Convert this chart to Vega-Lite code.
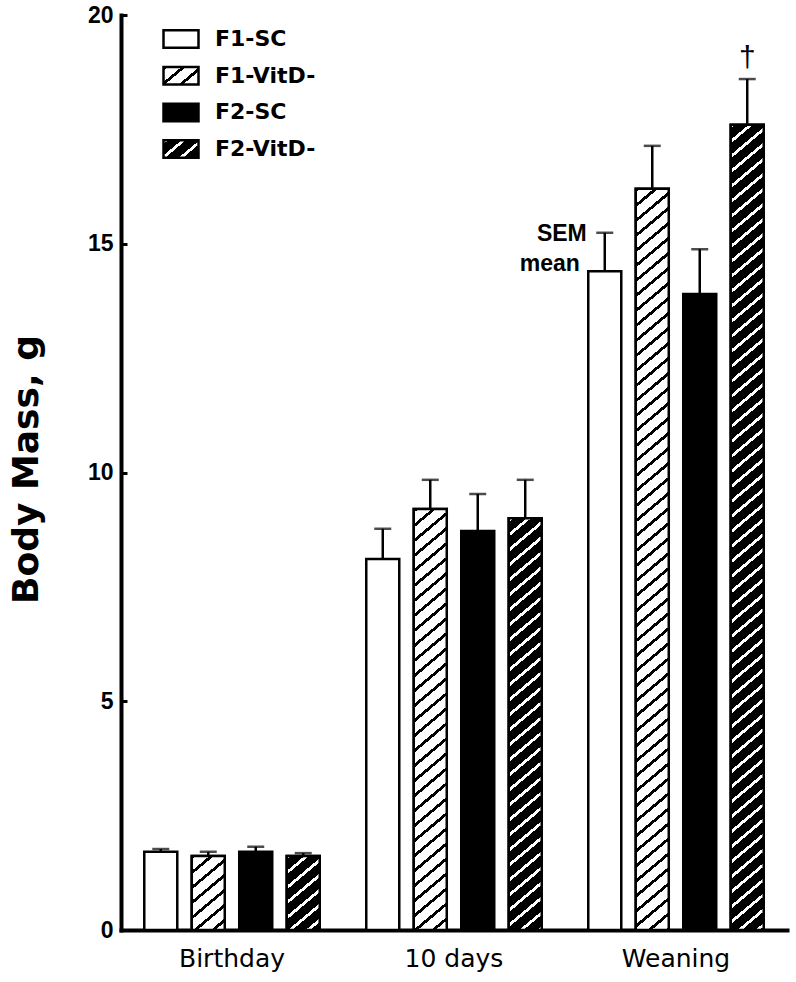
{
  "$schema": "https://vega.github.io/schema/vega-lite/v6.json",
  "width": 666,
  "height": 915,
  "autosize": {"type": "none"},
  "padding": {"left": 121, "top": 15, "right": 9, "bottom": 52},
  "background": "white",
  "config": {
    "font": "Liberation Sans",
    "view": {"stroke": null},
    "axis": {"domainColor": "black", "domainWidth": 4, "domainCap": "square", "tickColor": "black", "labelColor": "black", "titleColor": "black", "grid": false}
  },
  "params": [
    {"name": "hatchA", "value": [
      {"offset":0,"color":"#000"},{"offset":0.0043,"color":"#000"},{"offset":0.0043,"color":"#fff"},{"offset":0.0172,"color":"#fff"},
      {"offset":0.0172,"color":"#000"},{"offset":0.0215,"color":"#000"},{"offset":0.0215,"color":"#fff"},{"offset":0.0345,"color":"#fff"},
      {"offset":0.0345,"color":"#000"},{"offset":0.0388,"color":"#000"},{"offset":0.0388,"color":"#fff"},{"offset":0.0517,"color":"#fff"},
      {"offset":0.0517,"color":"#000"},{"offset":0.0560,"color":"#000"},{"offset":0.0560,"color":"#fff"},{"offset":0.0690,"color":"#fff"},
      {"offset":0.0690,"color":"#000"},{"offset":0.0733,"color":"#000"},{"offset":0.0733,"color":"#fff"},{"offset":0.0862,"color":"#fff"},
      {"offset":0.0862,"color":"#000"},{"offset":0.0905,"color":"#000"},{"offset":0.0905,"color":"#fff"},{"offset":0.1034,"color":"#fff"},
      {"offset":0.1034,"color":"#000"},{"offset":0.1077,"color":"#000"},{"offset":0.1077,"color":"#fff"},{"offset":0.1207,"color":"#fff"},
      {"offset":0.1207,"color":"#000"},{"offset":0.1250,"color":"#000"},{"offset":0.1250,"color":"#fff"},{"offset":0.1379,"color":"#fff"},
      {"offset":0.1379,"color":"#000"},{"offset":0.1422,"color":"#000"},{"offset":0.1422,"color":"#fff"},{"offset":0.1552,"color":"#fff"},
      {"offset":0.1552,"color":"#000"},{"offset":0.1595,"color":"#000"},{"offset":0.1595,"color":"#fff"},{"offset":0.1724,"color":"#fff"},
      {"offset":0.1724,"color":"#000"},{"offset":0.1767,"color":"#000"},{"offset":0.1767,"color":"#fff"},{"offset":0.1897,"color":"#fff"},
      {"offset":0.1897,"color":"#000"},{"offset":0.1940,"color":"#000"},{"offset":0.1940,"color":"#fff"},{"offset":0.2069,"color":"#fff"},
      {"offset":0.2069,"color":"#000"},{"offset":0.2112,"color":"#000"},{"offset":0.2112,"color":"#fff"},{"offset":0.2241,"color":"#fff"},
      {"offset":0.2241,"color":"#000"},{"offset":0.2284,"color":"#000"},{"offset":0.2284,"color":"#fff"},{"offset":0.2414,"color":"#fff"},
      {"offset":0.2414,"color":"#000"},{"offset":0.2457,"color":"#000"},{"offset":0.2457,"color":"#fff"},{"offset":0.2586,"color":"#fff"},
      {"offset":0.2586,"color":"#000"},{"offset":0.2629,"color":"#000"},{"offset":0.2629,"color":"#fff"},{"offset":0.2759,"color":"#fff"},
      {"offset":0.2759,"color":"#000"},{"offset":0.2802,"color":"#000"},{"offset":0.2802,"color":"#fff"},{"offset":0.2931,"color":"#fff"},
      {"offset":0.2931,"color":"#000"},{"offset":0.2974,"color":"#000"},{"offset":0.2974,"color":"#fff"},{"offset":0.3103,"color":"#fff"},
      {"offset":0.3103,"color":"#000"},{"offset":0.3146,"color":"#000"},{"offset":0.3146,"color":"#fff"},{"offset":0.3276,"color":"#fff"},
      {"offset":0.3276,"color":"#000"},{"offset":0.3319,"color":"#000"},{"offset":0.3319,"color":"#fff"},{"offset":0.3448,"color":"#fff"},
      {"offset":0.3448,"color":"#000"},{"offset":0.3491,"color":"#000"},{"offset":0.3491,"color":"#fff"},{"offset":0.3621,"color":"#fff"},
      {"offset":0.3621,"color":"#000"},{"offset":0.3664,"color":"#000"},{"offset":0.3664,"color":"#fff"},{"offset":0.3793,"color":"#fff"},
      {"offset":0.3793,"color":"#000"},{"offset":0.3836,"color":"#000"},{"offset":0.3836,"color":"#fff"},{"offset":0.3966,"color":"#fff"},
      {"offset":0.3966,"color":"#000"},{"offset":0.4009,"color":"#000"},{"offset":0.4009,"color":"#fff"},{"offset":0.4138,"color":"#fff"},
      {"offset":0.4138,"color":"#000"},{"offset":0.4181,"color":"#000"},{"offset":0.4181,"color":"#fff"},{"offset":0.4310,"color":"#fff"},
      {"offset":0.4310,"color":"#000"},{"offset":0.4353,"color":"#000"},{"offset":0.4353,"color":"#fff"},{"offset":0.4483,"color":"#fff"},
      {"offset":0.4483,"color":"#000"},{"offset":0.4526,"color":"#000"},{"offset":0.4526,"color":"#fff"},{"offset":0.4655,"color":"#fff"},
      {"offset":0.4655,"color":"#000"},{"offset":0.4698,"color":"#000"},{"offset":0.4698,"color":"#fff"},{"offset":0.4828,"color":"#fff"},
      {"offset":0.4828,"color":"#000"},{"offset":0.4871,"color":"#000"},{"offset":0.4871,"color":"#fff"},{"offset":0.5000,"color":"#fff"},
      {"offset":0.5000,"color":"#000"},{"offset":0.5043,"color":"#000"},{"offset":0.5043,"color":"#fff"},{"offset":0.5172,"color":"#fff"},
      {"offset":0.5172,"color":"#000"},{"offset":0.5215,"color":"#000"},{"offset":0.5215,"color":"#fff"},{"offset":0.5345,"color":"#fff"},
      {"offset":0.5345,"color":"#000"},{"offset":0.5388,"color":"#000"},{"offset":0.5388,"color":"#fff"},{"offset":0.5517,"color":"#fff"},
      {"offset":0.5517,"color":"#000"},{"offset":0.5560,"color":"#000"},{"offset":0.5560,"color":"#fff"},{"offset":0.5690,"color":"#fff"},
      {"offset":0.5690,"color":"#000"},{"offset":0.5733,"color":"#000"},{"offset":0.5733,"color":"#fff"},{"offset":0.5862,"color":"#fff"},
      {"offset":0.5862,"color":"#000"},{"offset":0.5905,"color":"#000"},{"offset":0.5905,"color":"#fff"},{"offset":0.6034,"color":"#fff"},
      {"offset":0.6034,"color":"#000"},{"offset":0.6077,"color":"#000"},{"offset":0.6077,"color":"#fff"},{"offset":0.6207,"color":"#fff"},
      {"offset":0.6207,"color":"#000"},{"offset":0.6250,"color":"#000"},{"offset":0.6250,"color":"#fff"},{"offset":0.6379,"color":"#fff"},
      {"offset":0.6379,"color":"#000"},{"offset":0.6422,"color":"#000"},{"offset":0.6422,"color":"#fff"},{"offset":0.6552,"color":"#fff"},
      {"offset":0.6552,"color":"#000"},{"offset":0.6595,"color":"#000"},{"offset":0.6595,"color":"#fff"},{"offset":0.6724,"color":"#fff"},
      {"offset":0.6724,"color":"#000"},{"offset":0.6767,"color":"#000"},{"offset":0.6767,"color":"#fff"},{"offset":0.6897,"color":"#fff"},
      {"offset":0.6897,"color":"#000"},{"offset":0.6940,"color":"#000"},{"offset":0.6940,"color":"#fff"},{"offset":0.7069,"color":"#fff"},
      {"offset":0.7069,"color":"#000"},{"offset":0.7112,"color":"#000"},{"offset":0.7112,"color":"#fff"},{"offset":0.7241,"color":"#fff"},
      {"offset":0.7241,"color":"#000"},{"offset":0.7284,"color":"#000"},{"offset":0.7284,"color":"#fff"},{"offset":0.7414,"color":"#fff"},
      {"offset":0.7414,"color":"#000"},{"offset":0.7457,"color":"#000"},{"offset":0.7457,"color":"#fff"},{"offset":0.7586,"color":"#fff"},
      {"offset":0.7586,"color":"#000"},{"offset":0.7629,"color":"#000"},{"offset":0.7629,"color":"#fff"},{"offset":0.7759,"color":"#fff"},
      {"offset":0.7759,"color":"#000"},{"offset":0.7802,"color":"#000"},{"offset":0.7802,"color":"#fff"},{"offset":0.7931,"color":"#fff"},
      {"offset":0.7931,"color":"#000"},{"offset":0.7974,"color":"#000"},{"offset":0.7974,"color":"#fff"},{"offset":0.8103,"color":"#fff"},
      {"offset":0.8103,"color":"#000"},{"offset":0.8146,"color":"#000"},{"offset":0.8146,"color":"#fff"},{"offset":0.8276,"color":"#fff"},
      {"offset":0.8276,"color":"#000"},{"offset":0.8319,"color":"#000"},{"offset":0.8319,"color":"#fff"},{"offset":0.8448,"color":"#fff"},
      {"offset":0.8448,"color":"#000"},{"offset":0.8491,"color":"#000"},{"offset":0.8491,"color":"#fff"},{"offset":0.8621,"color":"#fff"},
      {"offset":0.8621,"color":"#000"},{"offset":0.8664,"color":"#000"},{"offset":0.8664,"color":"#fff"},{"offset":0.8793,"color":"#fff"},
      {"offset":0.8793,"color":"#000"},{"offset":0.8836,"color":"#000"},{"offset":0.8836,"color":"#fff"},{"offset":0.8966,"color":"#fff"},
      {"offset":0.8966,"color":"#000"},{"offset":0.9009,"color":"#000"},{"offset":0.9009,"color":"#fff"},{"offset":0.9138,"color":"#fff"},
      {"offset":0.9138,"color":"#000"},{"offset":0.9181,"color":"#000"},{"offset":0.9181,"color":"#fff"},{"offset":0.9310,"color":"#fff"},
      {"offset":0.9310,"color":"#000"},{"offset":0.9353,"color":"#000"},{"offset":0.9353,"color":"#fff"},{"offset":0.9483,"color":"#fff"},
      {"offset":0.9483,"color":"#000"},{"offset":0.9526,"color":"#000"},{"offset":0.9526,"color":"#fff"},{"offset":0.9655,"color":"#fff"},
      {"offset":0.9655,"color":"#000"},{"offset":0.9698,"color":"#000"},{"offset":0.9698,"color":"#fff"},{"offset":0.9828,"color":"#fff"},
      {"offset":0.9828,"color":"#000"},{"offset":0.9871,"color":"#000"},{"offset":0.9871,"color":"#fff"},{"offset":1,"color":"#fff"}
    ]},
    {"name": "hatchB", "value": [
      {"offset":0,"color":"#fff"},{"offset":0.0043,"color":"#fff"},{"offset":0.0043,"color":"#000"},{"offset":0.0172,"color":"#000"},
      {"offset":0.0172,"color":"#fff"},{"offset":0.0215,"color":"#fff"},{"offset":0.0215,"color":"#000"},{"offset":0.0345,"color":"#000"},
      {"offset":0.0345,"color":"#fff"},{"offset":0.0388,"color":"#fff"},{"offset":0.0388,"color":"#000"},{"offset":0.0517,"color":"#000"},
      {"offset":0.0517,"color":"#fff"},{"offset":0.0560,"color":"#fff"},{"offset":0.0560,"color":"#000"},{"offset":0.0690,"color":"#000"},
      {"offset":0.0690,"color":"#fff"},{"offset":0.0733,"color":"#fff"},{"offset":0.0733,"color":"#000"},{"offset":0.0862,"color":"#000"},
      {"offset":0.0862,"color":"#fff"},{"offset":0.0905,"color":"#fff"},{"offset":0.0905,"color":"#000"},{"offset":0.1034,"color":"#000"},
      {"offset":0.1034,"color":"#fff"},{"offset":0.1077,"color":"#fff"},{"offset":0.1077,"color":"#000"},{"offset":0.1207,"color":"#000"},
      {"offset":0.1207,"color":"#fff"},{"offset":0.1250,"color":"#fff"},{"offset":0.1250,"color":"#000"},{"offset":0.1379,"color":"#000"},
      {"offset":0.1379,"color":"#fff"},{"offset":0.1422,"color":"#fff"},{"offset":0.1422,"color":"#000"},{"offset":0.1552,"color":"#000"},
      {"offset":0.1552,"color":"#fff"},{"offset":0.1595,"color":"#fff"},{"offset":0.1595,"color":"#000"},{"offset":0.1724,"color":"#000"},
      {"offset":0.1724,"color":"#fff"},{"offset":0.1767,"color":"#fff"},{"offset":0.1767,"color":"#000"},{"offset":0.1897,"color":"#000"},
      {"offset":0.1897,"color":"#fff"},{"offset":0.1940,"color":"#fff"},{"offset":0.1940,"color":"#000"},{"offset":0.2069,"color":"#000"},
      {"offset":0.2069,"color":"#fff"},{"offset":0.2112,"color":"#fff"},{"offset":0.2112,"color":"#000"},{"offset":0.2241,"color":"#000"},
      {"offset":0.2241,"color":"#fff"},{"offset":0.2284,"color":"#fff"},{"offset":0.2284,"color":"#000"},{"offset":0.2414,"color":"#000"},
      {"offset":0.2414,"color":"#fff"},{"offset":0.2457,"color":"#fff"},{"offset":0.2457,"color":"#000"},{"offset":0.2586,"color":"#000"},
      {"offset":0.2586,"color":"#fff"},{"offset":0.2629,"color":"#fff"},{"offset":0.2629,"color":"#000"},{"offset":0.2759,"color":"#000"},
      {"offset":0.2759,"color":"#fff"},{"offset":0.2802,"color":"#fff"},{"offset":0.2802,"color":"#000"},{"offset":0.2931,"color":"#000"},
      {"offset":0.2931,"color":"#fff"},{"offset":0.2974,"color":"#fff"},{"offset":0.2974,"color":"#000"},{"offset":0.3103,"color":"#000"},
      {"offset":0.3103,"color":"#fff"},{"offset":0.3146,"color":"#fff"},{"offset":0.3146,"color":"#000"},{"offset":0.3276,"color":"#000"},
      {"offset":0.3276,"color":"#fff"},{"offset":0.3319,"color":"#fff"},{"offset":0.3319,"color":"#000"},{"offset":0.3448,"color":"#000"},
      {"offset":0.3448,"color":"#fff"},{"offset":0.3491,"color":"#fff"},{"offset":0.3491,"color":"#000"},{"offset":0.3621,"color":"#000"},
      {"offset":0.3621,"color":"#fff"},{"offset":0.3664,"color":"#fff"},{"offset":0.3664,"color":"#000"},{"offset":0.3793,"color":"#000"},
      {"offset":0.3793,"color":"#fff"},{"offset":0.3836,"color":"#fff"},{"offset":0.3836,"color":"#000"},{"offset":0.3966,"color":"#000"},
      {"offset":0.3966,"color":"#fff"},{"offset":0.4009,"color":"#fff"},{"offset":0.4009,"color":"#000"},{"offset":0.4138,"color":"#000"},
      {"offset":0.4138,"color":"#fff"},{"offset":0.4181,"color":"#fff"},{"offset":0.4181,"color":"#000"},{"offset":0.4310,"color":"#000"},
      {"offset":0.4310,"color":"#fff"},{"offset":0.4353,"color":"#fff"},{"offset":0.4353,"color":"#000"},{"offset":0.4483,"color":"#000"},
      {"offset":0.4483,"color":"#fff"},{"offset":0.4526,"color":"#fff"},{"offset":0.4526,"color":"#000"},{"offset":0.4655,"color":"#000"},
      {"offset":0.4655,"color":"#fff"},{"offset":0.4698,"color":"#fff"},{"offset":0.4698,"color":"#000"},{"offset":0.4828,"color":"#000"},
      {"offset":0.4828,"color":"#fff"},{"offset":0.4871,"color":"#fff"},{"offset":0.4871,"color":"#000"},{"offset":0.5000,"color":"#000"},
      {"offset":0.5000,"color":"#fff"},{"offset":0.5043,"color":"#fff"},{"offset":0.5043,"color":"#000"},{"offset":0.5172,"color":"#000"},
      {"offset":0.5172,"color":"#fff"},{"offset":0.5215,"color":"#fff"},{"offset":0.5215,"color":"#000"},{"offset":0.5345,"color":"#000"},
      {"offset":0.5345,"color":"#fff"},{"offset":0.5388,"color":"#fff"},{"offset":0.5388,"color":"#000"},{"offset":0.5517,"color":"#000"},
      {"offset":0.5517,"color":"#fff"},{"offset":0.5560,"color":"#fff"},{"offset":0.5560,"color":"#000"},{"offset":0.5690,"color":"#000"},
      {"offset":0.5690,"color":"#fff"},{"offset":0.5733,"color":"#fff"},{"offset":0.5733,"color":"#000"},{"offset":0.5862,"color":"#000"},
      {"offset":0.5862,"color":"#fff"},{"offset":0.5905,"color":"#fff"},{"offset":0.5905,"color":"#000"},{"offset":0.6034,"color":"#000"},
      {"offset":0.6034,"color":"#fff"},{"offset":0.6077,"color":"#fff"},{"offset":0.6077,"color":"#000"},{"offset":0.6207,"color":"#000"},
      {"offset":0.6207,"color":"#fff"},{"offset":0.6250,"color":"#fff"},{"offset":0.6250,"color":"#000"},{"offset":0.6379,"color":"#000"},
      {"offset":0.6379,"color":"#fff"},{"offset":0.6422,"color":"#fff"},{"offset":0.6422,"color":"#000"},{"offset":0.6552,"color":"#000"},
      {"offset":0.6552,"color":"#fff"},{"offset":0.6595,"color":"#fff"},{"offset":0.6595,"color":"#000"},{"offset":0.6724,"color":"#000"},
      {"offset":0.6724,"color":"#fff"},{"offset":0.6767,"color":"#fff"},{"offset":0.6767,"color":"#000"},{"offset":0.6897,"color":"#000"},
      {"offset":0.6897,"color":"#fff"},{"offset":0.6940,"color":"#fff"},{"offset":0.6940,"color":"#000"},{"offset":0.7069,"color":"#000"},
      {"offset":0.7069,"color":"#fff"},{"offset":0.7112,"color":"#fff"},{"offset":0.7112,"color":"#000"},{"offset":0.7241,"color":"#000"},
      {"offset":0.7241,"color":"#fff"},{"offset":0.7284,"color":"#fff"},{"offset":0.7284,"color":"#000"},{"offset":0.7414,"color":"#000"},
      {"offset":0.7414,"color":"#fff"},{"offset":0.7457,"color":"#fff"},{"offset":0.7457,"color":"#000"},{"offset":0.7586,"color":"#000"},
      {"offset":0.7586,"color":"#fff"},{"offset":0.7629,"color":"#fff"},{"offset":0.7629,"color":"#000"},{"offset":0.7759,"color":"#000"},
      {"offset":0.7759,"color":"#fff"},{"offset":0.7802,"color":"#fff"},{"offset":0.7802,"color":"#000"},{"offset":0.7931,"color":"#000"},
      {"offset":0.7931,"color":"#fff"},{"offset":0.7974,"color":"#fff"},{"offset":0.7974,"color":"#000"},{"offset":0.8103,"color":"#000"},
      {"offset":0.8103,"color":"#fff"},{"offset":0.8146,"color":"#fff"},{"offset":0.8146,"color":"#000"},{"offset":0.8276,"color":"#000"},
      {"offset":0.8276,"color":"#fff"},{"offset":0.8319,"color":"#fff"},{"offset":0.8319,"color":"#000"},{"offset":0.8448,"color":"#000"},
      {"offset":0.8448,"color":"#fff"},{"offset":0.8491,"color":"#fff"},{"offset":0.8491,"color":"#000"},{"offset":0.8621,"color":"#000"},
      {"offset":0.8621,"color":"#fff"},{"offset":0.8664,"color":"#fff"},{"offset":0.8664,"color":"#000"},{"offset":0.8793,"color":"#000"},
      {"offset":0.8793,"color":"#fff"},{"offset":0.8836,"color":"#fff"},{"offset":0.8836,"color":"#000"},{"offset":0.8966,"color":"#000"},
      {"offset":0.8966,"color":"#fff"},{"offset":0.9009,"color":"#fff"},{"offset":0.9009,"color":"#000"},{"offset":0.9138,"color":"#000"},
      {"offset":0.9138,"color":"#fff"},{"offset":0.9181,"color":"#fff"},{"offset":0.9181,"color":"#000"},{"offset":0.9310,"color":"#000"},
      {"offset":0.9310,"color":"#fff"},{"offset":0.9353,"color":"#fff"},{"offset":0.9353,"color":"#000"},{"offset":0.9483,"color":"#000"},
      {"offset":0.9483,"color":"#fff"},{"offset":0.9526,"color":"#fff"},{"offset":0.9526,"color":"#000"},{"offset":0.9655,"color":"#000"},
      {"offset":0.9655,"color":"#fff"},{"offset":0.9698,"color":"#fff"},{"offset":0.9698,"color":"#000"},{"offset":0.9828,"color":"#000"},
      {"offset":0.9828,"color":"#fff"},{"offset":0.9871,"color":"#fff"},{"offset":0.9871,"color":"#000"},{"offset":1,"color":"#000"}
    ]}
  ],
  "datasets": {
    "bars": [
      {"time": "Birthday", "group": "F1-SC", "mean": 1.71, "upper": 1.77},
      {"time": "Birthday", "group": "F1-VitD-", "mean": 1.62, "upper": 1.71},
      {"time": "Birthday", "group": "F2-SC", "mean": 1.71, "upper": 1.82},
      {"time": "Birthday", "group": "F2-VitD-", "mean": 1.62, "upper": 1.68},
      {"time": "10 days", "group": "F1-SC", "mean": 8.11, "upper": 8.77},
      {"time": "10 days", "group": "F1-VitD-", "mean": 9.2, "upper": 9.84},
      {"time": "10 days", "group": "F2-SC", "mean": 8.72, "upper": 9.53},
      {"time": "10 days", "group": "F2-VitD-", "mean": 9.0, "upper": 9.84},
      {"time": "Weaning", "group": "F1-SC", "mean": 14.4, "upper": 15.24},
      {"time": "Weaning", "group": "F1-VitD-", "mean": 16.2, "upper": 17.14},
      {"time": "Weaning", "group": "F2-SC", "mean": 13.9, "upper": 14.88},
      {"time": "Weaning", "group": "F2-VitD-", "mean": 17.6, "upper": 18.6}
    ]
  },
  "encoding": {
    "x": {
      "field": "time", "type": "nominal", "sort": ["Birthday", "10 days", "Weaning"],
      "scale": {"paddingInner": 0, "paddingOuter": 0},
      "axis": {"title": null, "labelAngle": 0, "ticks": false, "labelFontSize": 25, "labelPadding": 16, "labelFont": "DejaVu Sans"}
    },
    "xOffset": {
      "field": "group", "type": "nominal",
      "scale": {"domain": ["F1-SC", "F1-VitD-", "F2-SC", "F2-VitD-"], "paddingInner": 0.305, "paddingOuter": 0.49}
    },
    "y": {
      "field": "mean", "type": "quantitative",
      "scale": {"domain": [0, 20], "nice": false},
      "axis": {
        "title": "Body Mass, g", "values": [0, 5, 10, 15, 20], "tickSize": -6, "tickWidth": 3,
        "labelFontSize": 23, "labelFontWeight": "bold", "labelPadding": 14,
        "titleFont": "DejaVu Sans", "titleFontSize": 36, "titleFontWeight": "bold", "titleAngle": 270, "titleX": -84, "titleY": 454,
        "titleBaseline": "alphabetic", "titleAlign": "center"
      }
    }
  },
  "layer": [
    {
      "data": {"name": "bars"},
      "mark": {"type": "bar", "strokeWidth": 2.5},
      "encoding": {
        "fill": {
          "field": "group", "type": "nominal",
          "scale": {"domain": ["F1-SC", "F1-VitD-", "F2-SC", "F2-VitD-"], "range": [
            "white",
            {"expr": "{gradient: 'linear', x1: 0, y1: 0, x2: 21.88, y2: 13.04, stops: hatchA}"},
            "black",
            {"expr": "{gradient: 'linear', x1: 0, y1: 0, x2: 21.88, y2: 13.04, stops: hatchB}"}
          ]},
          "legend": {
            "title": null, "orient": "none", "legendX": 41, "legendY": 5, "padding": 0, "rowPadding": 3.7,
            "symbolType": "M-1,-0.5H1V0.5H-1Z", "symbolSize": 1225, "symbolStrokeWidth": 2.5,
            "symbolOpacity": 1, "labelFontSize": 22, "labelFontWeight": "bold", "labelFont": "DejaVu Sans",
            "labelColor": "black", "labelOffset": 15
          }
        },
        "stroke": {
          "field": "group", "type": "nominal",
          "scale": {"domain": ["F1-SC", "F1-VitD-", "F2-SC", "F2-VitD-"], "range": ["black", "black", "black", "black"]},
          "legend": {
            "title": null, "orient": "none", "legendX": 41, "legendY": 5, "padding": 0, "rowPadding": 3.7,
            "symbolType": "M-1,-0.5H1V0.5H-1Z", "symbolSize": 1225, "symbolStrokeWidth": 2.5,
            "symbolOpacity": 1, "labelFontSize": 22, "labelFontWeight": "bold", "labelFont": "DejaVu Sans",
            "labelColor": "black", "labelOffset": 15
          }
        }
      }
    },
    {
      "data": {"name": "bars"},
      "transform": [{"filter": "datum.group === 'F1-VitD-' || datum.group === 'F2-VitD-'"}],
      "mark": {
        "type": "bar", "stroke": "black", "strokeWidth": 2.5,
        "fill": {"expr": "{gradient: 'linear', x1: 0, y1: 0, x2: 667 * bandwidth('xOffset') * 0.6428 / (pow(bandwidth('xOffset') * 0.6428, 2) + pow((scale('y', 0) - scale('y', datum.mean)) * 0.766, 2)), y2: 667 * (scale('y', 0) - scale('y', datum.mean)) * 0.766 / (pow(bandwidth('xOffset') * 0.6428, 2) + pow((scale('y', 0) - scale('y', datum.mean)) * 0.766, 2)), stops: datum.group === 'F1-VitD-' ? hatchA : hatchB}"}
      },
      "encoding": {}
    },
    {
      "data": {"name": "bars"},
      "mark": {"type": "rule", "color": "black", "strokeWidth": 2.5},
      "encoding": {"y2": {"field": "upper"}}
    },
    {
      "data": {"name": "bars"},
      "mark": {"type": "tick", "color": "black", "size": 17, "thickness": 2.5, "orient": "horizontal"},
      "encoding": {"y": {"field": "upper", "type": "quantitative"}}
    },
    {
      "data": {"values": [{"time": "Weaning", "group": "F1-SC", "at": 15.24, "label": "SEM"}]},
      "mark": {"type": "text", "align": "right", "baseline": "middle", "dx": -18, "dy": 1, "fontSize": 23, "fontWeight": "bold", "color": "black"},
      "encoding": {"y": {"field": "at", "type": "quantitative"}, "text": {"field": "label"}}
    },
    {
      "data": {"values": [{"time": "Weaning", "group": "F1-SC", "at": 14.4, "label": "mean"}]},
      "mark": {"type": "text", "align": "right", "baseline": "alphabetic", "dx": -25, "dy": 0, "fontSize": 23, "fontWeight": "bold", "color": "black"},
      "encoding": {"y": {"field": "at", "type": "quantitative"}, "text": {"field": "label"}}
    },
    {
      "data": {"values": [{"time": "Weaning", "group": "F2-VitD-", "at": 18.6, "label": "†"}]},
      "mark": {"type": "text", "align": "center", "baseline": "alphabetic", "dx": 0, "dy": -12, "fontSize": 30, "color": "black"},
      "encoding": {"y": {"field": "at", "type": "quantitative"}, "text": {"field": "label"}}
    }
  ]
}
